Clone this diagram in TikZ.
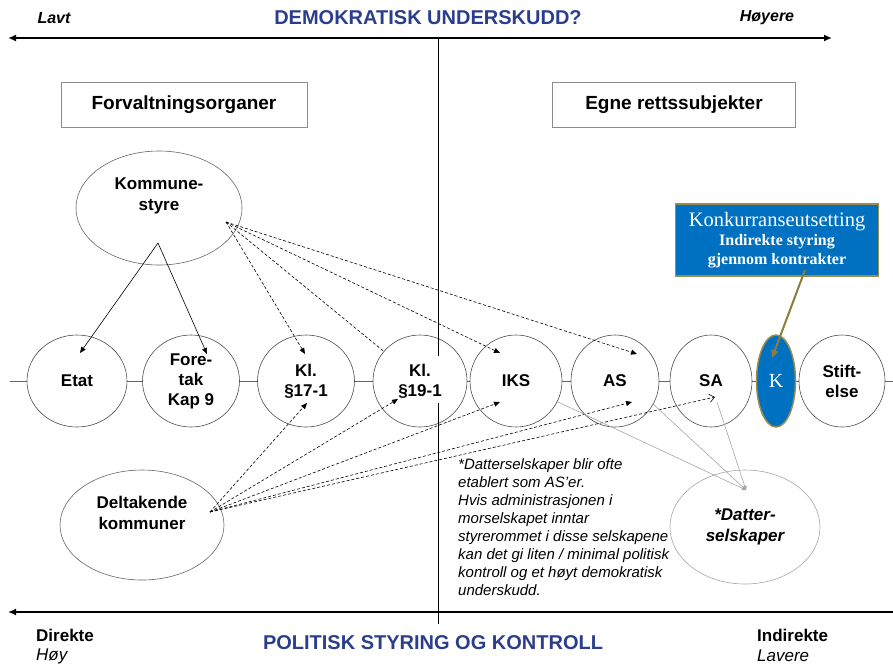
\documentclass[tikz,border=0pt]{standalone}
\usepackage{fontspec}
\setmainfont{Liberation Sans}
\newfontfamily\konkfont{Liberation Serif}
\usetikzlibrary{shapes.geometric,arrows.meta,calc}
\definecolor{titleblue}{RGB}{43,62,140}
\definecolor{konkblue}{RGB}{0,112,192}
\definecolor{konkgold}{RGB}{156,139,78}
\definecolor{arrowolive}{RGB}{140,125,60}

\begin{document}
\begin{tikzpicture}[x=1pt,y=-1pt,
	unit/.style={ellipse,draw=black!70,line width=.6pt,fill=white,inner sep=0pt,minimum height=92pt,align=center,font=\fontsize{17}{20}\selectfont\bfseries},
	bigell/.style={ellipse,draw=black!60,line width=.6pt,inner sep=0pt,align=center,font=\fontsize{17}{21}\selectfont\bfseries},
	lbl/.style={inner sep=0pt,align=center,font=\fontsize{17}{21}\selectfont\bfseries},
	headbox/.style={draw=black!45,line width=.8pt,minimum width=246pt,minimum height=45pt,font=\fontsize{19}{23}\selectfont\bfseries},
	axistitle/.style={inner sep=0pt,text=titleblue,font=\fontsize{20}{24}\selectfont\bfseries},
	ctrl/.style={line width=.6pt,dash pattern=on 3pt off 2pt,-{Triangle[length=6pt,width=5pt]}},
	owner/.style={line width=.6pt,draw=black!35,-{Triangle[length=4pt,width=4pt]}}
	]
\useasboundingbox (0,0) rectangle (893,665);

% axes
\draw[line width=2.2pt,{Latex[length=8pt,width=7pt]}-{Latex[length=8pt,width=7pt]}] (8,38) -- (832,38);
\draw[line width=2.2pt,-{Latex[length=8pt,width=7pt]}] (893,612) -- (8,612);
\draw[black!60,line width=.6pt] (10,381) -- (893,381);

\path (54,18) node[inner sep=0pt,font=\fontsize{16}{19}\selectfont\bfseries\itshape] (lavt) {Lavt}
		(428,18) node[axistitle] (demokrati) {DEMOKRATISK UNDERSKUDD?}
		(767,18) node[inner sep=0pt,font=\fontsize{16}{19}\selectfont\bfseries\itshape] (hoyere) {Høyere}
		(184,105) node[headbox] (forvaltning) {Forvaltningsorganer}
		(674,105) node[headbox,minimum width=243pt] (rettssubj) {Egne rettssubjekter}
		(36,635) node[anchor=west,inner sep=0pt,font=\fontsize{17}{20}\selectfont\bfseries] (direkte) {Direkte}
		(36,656) node[anchor=west,inner sep=0pt,font=\fontsize{17}{20}\selectfont\itshape] (hoy) {Høy}
		(433,643) node[axistitle] (politisk) {POLITISK STYRING OG KONTROLL}
		(757,635) node[anchor=west,inner sep=0pt,font=\fontsize{17}{20}\selectfont\bfseries] (indirekte) {Indirekte}
		(757,656) node[anchor=west,inner sep=0pt,font=\fontsize{17}{20}\selectfont\itshape] (lavere) {Lavere}
		;

% organisasjonsformer
\path (77,381) node[unit,minimum width=100pt] (etat) {Etat}
		(191,381) node[unit,minimum width=97pt] (foretak) {Fore-\\tak\\Kap 9}
		(306,381) node[unit,minimum width=97pt] (kl17) {Kl.\\\S17-1}
		(420,381) node[unit,minimum width=94pt] (kl19) {Kl.\\\S19-1}
		(516,381) node[unit,minimum width=92pt] (iks) {IKS}
		(615,381) node[unit,minimum width=88pt] (as) {AS}
		(711,381) node[unit,minimum width=82pt] (sa) {SA}
		(776,381) node[unit,minimum width=39pt,fill=konkblue,draw=konkgold,line width=1.5pt,text=white,font=\konkfont\fontsize{20}{22}\selectfont] (konk) {K}
		(842,381) node[unit,minimum width=86pt] (stift) {Stift-\\else}
		;

\path (159,208) node[bigell,minimum width=166pt,minimum height=114pt] (kommune) {}
		(159,196) node[lbl] (kommunetxt) {Kommune-\\styre}
		(142,525) node[bigell,minimum width=164pt,minimum height=110pt] (deltak) {}
		(142,513) node[lbl] (deltaktxt) {Deltakende\\kommuner}
		(745,527) node[bigell,draw=black!35,minimum width=150pt,minimum height=114pt,font=\fontsize{17}{21}\selectfont\bfseries\itshape] (datter) {*Datter-\\selskaper}
		(777,240) node[rectangle,fill=konkblue,draw=konkgold,line width=1.5pt,minimum width=203pt,minimum height=72pt,inner sep=0pt,align=center,text=white,font=\konkfont\fontsize{16}{18.5}\selectfont] (konkbox) {{\fontsize{20.5}{21}\selectfont Konkurranseutsetting}\\[1pt]{\bfseries Indirekte styring}\\{\bfseries gjennom kontrakter}}
		(458,458) node[anchor=north west,inner sep=0pt,align=left,font=\fontsize{15}{18.1}\selectfont\itshape] (note) {*Datterselskaper blir ofte\\etablert som AS'er.\\Hvis administrasjonen i\\morselskapet inntar\\styrerommet i disse selskapene\\kan det gi liten / minimal politisk\\kontroll og et høyt demokratisk\\underskudd.}
		;

\draw[line width=1pt] (438,38) -- (438,356);
\draw[line width=1pt] (438,403) -- (438,624);

% direkte styring
\draw[line width=.6pt,-{Triangle[length=6pt,width=5pt]}] ($(node cs:name=kommune)+(-1,35)$) -- ($(node cs:name=etat)+(3,-28)$);
\draw[line width=.6pt,-{Triangle[length=6pt,width=5pt]}] ($(node cs:name=kommune)+(-1,35)$) -- ($(node cs:name=foretak)+(16,-27)$);
\draw[ctrl] ($(node cs:name=kommune)+(67,14)$) -- ($(node cs:name=kl17)+(-1,-27)$);
\draw[ctrl,-] ($(node cs:name=kommune)+(67,14)$) -- (node cs:name=kl19);
\draw[ctrl] ($(node cs:name=kommune)+(67,14)$) -- ($(node cs:name=iks)+(-16,-28)$);
\draw[ctrl] ($(node cs:name=kommune)+(67,14)$) -- ($(node cs:name=as)+(22,-27)$);

% eierkommuner
\draw[ctrl] ($(node cs:name=deltak)+(68,-13)$) -- ($(node cs:name=kl17)+(1,22)$);
\draw[ctrl] ($(node cs:name=deltak)+(68,-13)$) -- ($(node cs:name=kl19)+(-22,18)$);
\draw[ctrl] ($(node cs:name=deltak)+(68,-13)$) -- ($(node cs:name=iks)+(-16,21)$);
\draw[ctrl] ($(node cs:name=deltak)+(68,-13)$) -- ($(node cs:name=as)+(17,21)$);
\draw[ctrl,-{Straight Barb[length=5pt,width=8pt]}] ($(node cs:name=deltak)+(68,-13)$) -- ($(node cs:name=sa)+(4,16)$);

% datterselskaper
\draw[owner] ($(node cs:name=iks)+(40,20)$) -- ($(node cs:name=datter)+(1,-37)$);
\draw[owner] ($(node cs:name=as)+(38,23)$) -- ($(node cs:name=datter)+(1,-37)$);
\draw[owner] ($(node cs:name=sa)+(6,21)$) -- ($(node cs:name=datter)+(1,-37)$);

% konkurranseutsetting
\draw[arrowolive,line width=2pt,-{Triangle[length=8pt,width=7pt]}] ($(node cs:name=konkbox)+(28,30)$) -- ($(node cs:name=konk)+(-4,-23)$);
\end{tikzpicture}
\end{document}
